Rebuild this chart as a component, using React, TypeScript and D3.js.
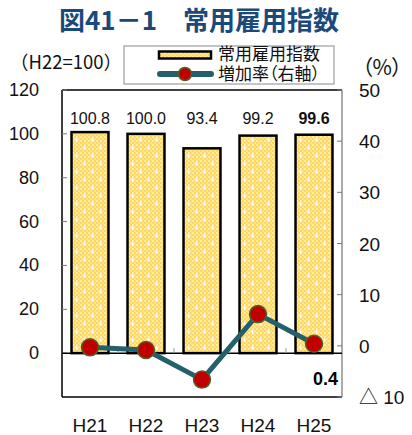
import React from 'react';
import * as d3 from 'd3';

const years = ['H21', 'H22', 'H23', 'H24', 'H25'];
const indexValues = [100.8, 100.0, 93.4, 99.2, 99.6];
const rateValues = [-0.3, -0.8, -6.6, 6.2, 0.4];
const leftTicks = [0, 20, 40, 60, 80, 100, 120];
const rightTicks = [-10, 0, 10, 20, 30, 40, 50];
const rightTickLabels = ['△ 10', '0', '10', '20', '30', '40', '50'];

const W = 412;
const H = 435;
const plot = { left: 62, right: 342, top: 90, bottom: 397 };

const font = '"Liberation Sans", Arial, "Noto Sans CJK JP", sans-serif';
const jpFont = '"Noto Sans CJK JP", "Liberation Sans", sans-serif';
const lineColor = '#245f6c';

const App: React.FC = () => {
  const x = d3.scaleBand<string>()
    .domain(years)
    .range([plot.left, plot.right])
    .paddingInner(0.34)
    .paddingOuter(0.17);
  const step = x.step();
  const yL = d3.scaleLinear().domain([-20, 120]).range([plot.bottom, plot.top]);
  const yR = d3.scaleLinear().domain([-10, 50]).range([plot.bottom, plot.top]);

  const cx = (i: number) => (x(years[i]) as number) + x.bandwidth() / 2;

  const line = d3.line<number>()
    .x((_, i) => cx(i))
    .y((d) => yR(d));

  const boundaries = d3.range(1, years.length).map((i) => plot.left + i * step);

  return (
    <svg width={W} height={H} style={{ position: 'absolute', left: 0, top: 0 }}>
      <defs>
        <pattern id="checker" width={4} height={4} patternUnits="userSpaceOnUse">
          <rect width={4} height={4} fill="#ffd862" />
          <rect width={2} height={2} fill="#ffedaa" />
          <rect x={2} y={2} width={2} height={2} fill="#ffe28a" />
        </pattern>
        <pattern id="barFill" width={16} height={16} patternUnits="userSpaceOnUse">
          <rect width={16} height={16} fill="url(#checker)" />
          <rect x={2.5} y={3.5} width={4} height={1} fill="#fff" />
          <rect x={4} y={2} width={1} height={4} fill="#fff" />
          <rect x={10.5} y={11.5} width={4} height={1} fill="#fff" />
          <rect x={12} y={10} width={1} height={4} fill="#fff" />
        </pattern>
      </defs>
      <rect width={W} height={H} fill="#fff" />

      {/* title */}
      <text x={199} y={30} textAnchor="middle" fontFamily={jpFont} fontWeight={700}
        fontSize={26} fill="#1b4a7a">図41－1　常用雇用指数</text>

      <text x={10} y={69} fontFamily={jpFont} fontSize={18.5} fill="#111">（H22=100）</text>
      <text x={362} y={75} fontFamily={jpFont} fontSize={21} fill="#111"
        style={{ fontFeatureSettings: '"palt"' }}>（%）</text>

      {/* legend */}
      <rect x={124} y={46} width={210} height={38} fill="#fff" stroke="#8a8a8a" strokeWidth={1} />
      <rect x={159} y={51.5} width={52} height={7} fill="url(#barFill)" stroke="#000" strokeWidth={2.5} />
      <text x={218} y={60} fontFamily={font} fontSize={17} fill="#111">常用雇用指数</text>
      <line x1={160} x2={211} y1={74} y2={74} stroke={lineColor} strokeWidth={6} strokeLinecap="round" />
      <circle cx={185} cy={74} r={6.5} fill="#c00000" stroke="#4f6228" strokeWidth={1.5} />
      <text x={218} y={80} fontFamily={font} fontSize={17} fill="#111"
        style={{ fontFeatureSettings: '"palt"' }}>増加率（右軸）</text>

      {/* plot frame */}
      <line x1={plot.left} x2={plot.right} y1={plot.top} y2={plot.top} stroke="#000" strokeWidth={1.5} />
      <line x1={plot.left} x2={plot.right} y1={plot.bottom} y2={plot.bottom} stroke="#000" strokeWidth={1.5} />
      <line x1={plot.left} x2={plot.left} y1={plot.top} y2={plot.bottom} stroke="#000" strokeWidth={1.5} />
      <line x1={plot.right} x2={plot.right} y1={plot.top} y2={plot.bottom} stroke="#8f8f8f" strokeWidth={1.5} />

      {/* left axis */}
      {leftTicks.map((t) => (
        <g key={'l' + t}>
          <line x1={plot.left} x2={plot.left + 5} y1={yL(t)} y2={yL(t)} stroke="#777" />
          <text x={39} y={yL(t) + 6} textAnchor="end" fontFamily={font} fontSize={18} fill="#111">{t}</text>
        </g>
      ))}

      {/* right axis */}
      {rightTicks.map((t, i) => (
        <g key={'r' + t}>
          <line x1={plot.right - 5} x2={plot.right} y1={yR(t)} y2={yR(t)} stroke="#777" />
          <text x={359} y={yR(t) + 7} fontFamily={font} fontSize={19} fill="#111">{rightTickLabels[i]}</text>
        </g>
      ))}

      {/* bars */}
      {indexValues.map((v, i) => (
        <rect key={'b' + i} x={x(years[i])} y={yL(v)} width={x.bandwidth()} height={yL(0) - yL(v)}
          fill="url(#barFill)" stroke="#000" strokeWidth={2.5} />
      ))}

      {/* zero line and category ticks */}
      <line x1={plot.left} x2={plot.right} y1={yL(0)} y2={yL(0)} stroke="#000" strokeWidth={1.5} />
      {boundaries.map((bx) => (
        <line key={'t' + bx} x1={bx} x2={bx} y1={yL(0)} y2={yL(0) - 5} stroke="#999" />
      ))}

      {/* value labels */}
      {indexValues.map((v, i) => (
        <text key={'v' + i} x={cx(i)} y={124}
          textAnchor="middle" fontFamily={font} fontSize={16}
          fontWeight={i === years.length - 1 ? 700 : 400} fill="#111">{v.toFixed(1)}</text>
      ))}

      {/* rate line */}
      <path d={line(rateValues) ?? ''} fill="none" stroke={lineColor} strokeWidth={5} strokeLinejoin="round" />
      {rateValues.map((r, i) => (
        <circle key={'c' + i} cx={cx(i)} cy={yR(r)} r={8.5}
          fill="#c00000" stroke="#4f6228" strokeWidth={1.5} />
      ))}
      <text x={338} y={385} textAnchor="end" fontFamily={font} fontSize={18} fontWeight={700} fill="#000">
        {rateValues[rateValues.length - 1].toFixed(1)}
      </text>

      {/* x labels */}
      {years.map((c, i) => (
        <text key={'x' + c} x={cx(i)} y={432} textAnchor="middle"
          fontFamily={font} fontSize={19} fill="#111">{c}</text>
      ))}
    </svg>
  );
};

export default App;
